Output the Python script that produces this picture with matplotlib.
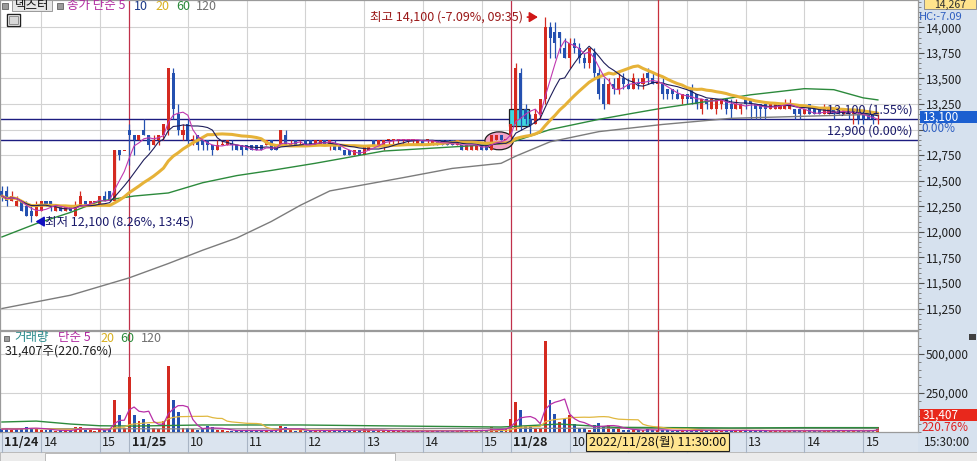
import numpy as np
import pandas as pd
import matplotlib
matplotlib.use('Agg')
import matplotlib.pyplot as plt
from matplotlib.patches import Rectangle, Ellipse
from matplotlib.transforms import blended_transform_factory
import matplotlib.ticker as mticker

plt.rcParams['font.family'] = ['Noto Sans CJK KR', 'DejaVu Sans']

# ---------------- data ----------------
stock_name = '덱스터'
day_labels = ['11/24', '11/25', '11/28']
session_start = ['13:20', '09:00', '09:00']
session_last = ['15:20', '15:20', '15:15']
closing_bar = [True, True, False]

opens = [
    # 11/24
    12400, 12400, 12300, 12250, 12300, 12250, 12200, 12150, 12200, 12300, 12300, 12200, 12250,
    12200, 12250, 12150, 12250, 12300, 12250, 12300, 12250, 12350, 12400, 12300, 12800, 12800,
    # 11/25
    13000, 12950, 12900, 13000, 12950, 12850, 12900, 12950, 13000, 13550, 13150, 12950, 13050,
    12900, 12950, 12900, 12900, 12850, 12800, 12850, 12850, 12850, 12850, 12850, 12850, 12850,
    12850, 12850, 12850, 12900, 12850, 12850, 12950, 12850, 12900, 12850, 12900, 12900, 12850,
    12850, 12900, 12850, 12850, 12850, 12800, 12800, 12750, 12800, 12750, 12800, 12900, 12850,
    12850, 12900, 12900, 12900, 12900, 12900, 12900, 12850, 12900, 12900, 12850, 12900, 12900,
    12900, 12900, 12850, 12850, 12800, 12800, 12800, 12850, 12850, 12800, 12900, 12950, 12900,
    # 11/28
    12950, 13050, 13550, 13200, 13100, 13050, 13150, 13300, 14000, 13950, 13950, 13800, 13700,
    13850, 13800, 13700, 13650, 13750, 13550, 13450, 13250, 13450, 13400, 13500, 13450, 13400,
    13450, 13450, 13550, 13500, 13450, 13450, 13400, 13400, 13350, 13300, 13350, 13400, 13350,
    13200, 13300, 13200, 13200, 13250, 13300, 13250, 13200, 13200, 13300, 13300, 13250, 13250,
    13250, 13200, 13200, 13200, 13200, 13200, 13200, 13200, 13150, 13250, 13200, 13200, 13150,
    13150, 13200, 13200, 13150, 13200, 13150, 13150, 13150, 13150, 13150, 13100,
]
highs = [
    12450, 12450, 12400, 12350, 12300, 12300, 12250, 12300, 12300, 12300, 12300, 12250, 12250,
    12250, 12250, 12300, 12400, 12300, 12300, 12300, 12350, 12400, 12400, 12800, 12800, 12800,
    13050, 12950, 12950, 13100, 12950, 12950, 12950, 13050, 13600, 13600, 13250, 13050, 13100,
    12950, 12950, 12900, 12900, 12850, 12900, 12900, 12900, 12900, 12850, 12850, 12850, 12850,
    12850, 12850, 12900, 12900, 12850, 13000, 13000, 12900, 12900, 12900, 12900, 12900, 12900,
    12900, 12900, 12900, 12900, 12850, 12800, 12800, 12800, 12800, 12850, 12850, 12900, 12900,
    12900, 12900, 12900, 12900, 12900, 12900, 12900, 12900, 12900, 12900, 12900, 12900, 12900,
    12900, 12900, 12900, 12850, 12850, 12850, 12850, 12850, 12850, 12950, 12950, 12950, 12900,
    13050, 13650, 13600, 13250, 13150, 13200, 13300, 14100, 14050, 14050, 13950, 13900, 13900,
    13900, 13850, 13750, 13800, 13800, 13600, 13500, 13500, 13500, 13550, 13550, 13500, 13550,
    13500, 13550, 13600, 13550, 13500, 13500, 13400, 13400, 13400, 13350, 13350, 13450, 13350,
    13300, 13300, 13300, 13300, 13300, 13300, 13300, 13300, 13250, 13300, 13300, 13250, 13250,
    13250, 13250, 13250, 13250, 13300, 13300, 13200, 13200, 13200, 13250, 13200, 13200, 13250,
    13200, 13200, 13200, 13200, 13200, 13200, 13200, 13150, 13150, 13150, 13150,
]
lows = [
    12300, 12250, 12300, 12250, 12200, 12150, 12100, 12150, 12200, 12250, 12200, 12200, 12200,
    12200, 12200, 12150, 12250, 12250, 12250, 12300, 12250, 12300, 12300, 12300, 12700, 12800,
    12650, 12750, 12900, 12950, 12800, 12850, 12850, 12900, 12950, 13100, 12950, 12900, 12850,
    12850, 12800, 12800, 12800, 12750, 12800, 12850, 12850, 12800, 12800, 12750, 12800, 12800,
    12800, 12800, 12850, 12800, 12800, 12850, 12850, 12850, 12850, 12850, 12850, 12850, 12850,
    12850, 12850, 12800, 12800, 12800, 12750, 12750, 12750, 12750, 12750, 12800, 12850, 12850,
    12800, 12850, 12850, 12850, 12850, 12850, 12850, 12850, 12850, 12850, 12850, 12850, 12850,
    12850, 12850, 12850, 12800, 12800, 12800, 12800, 12800, 12800, 12800, 12900, 12900, 12900,
    12900, 13000, 13000, 13050, 12950, 13050, 13100, 13250, 13700, 13700, 13750, 13700, 13600,
    13750, 13650, 13600, 13600, 13500, 13300, 13200, 13250, 13350, 13350, 13400, 13400, 13400,
    13400, 13400, 13450, 13450, 13400, 13300, 13300, 13300, 13300, 13250, 13250, 13250, 13200,
    13150, 13200, 13200, 13150, 13200, 13150, 13100, 13200, 13150, 13200, 13100, 13100, 13100,
    13100, 13200, 13200, 13200, 13200, 13200, 13100, 13100, 13150, 13150, 13150, 13150, 13150,
    13150, 13100, 13150, 13150, 13100, 13050, 13050, 13050, 13100, 13050, 13050,
]
closes = [
    12350, 12300, 12350, 12300, 12200, 12150, 12150, 12250, 12300, 12250, 12250, 12250, 12200,
    12250, 12200, 12250, 12350, 12250, 12300, 12300, 12350, 12300, 12300, 12800, 12750, 12800,
    12950, 12900, 12950, 12950, 12850, 12900, 12950, 13050, 13600, 13200, 13000, 13000, 12900,
    12900, 12850, 12850, 12850, 12800, 12850, 12850, 12900, 12850, 12800, 12800, 12800, 12800,
    12800, 12800, 12900, 12800, 12800, 13000, 12850, 12850, 12850, 12850, 12850, 12850, 12900,
    12900, 12850, 12900, 12800, 12800, 12750, 12750, 12800, 12750, 12850, 12850, 12850, 12900,
    12900, 12900, 12900, 12900, 12900, 12900, 12900, 12900, 12850, 12900, 12900, 12850, 12850,
    12850, 12850, 12900, 12800, 12850, 12850, 12850, 12800, 12800, 12950, 12950, 12900, 12900,
    13050, 13600, 13100, 13100, 13050, 13150, 13300, 14000, 13900, 13850, 13900, 13700, 13850,
    13800, 13700, 13650, 13800, 13550, 13350, 13250, 13450, 13400, 13500, 13450, 13400, 13500,
    13450, 13500, 13500, 13450, 13450, 13350, 13350, 13350, 13300, 13350, 13300, 13300, 13250,
    13300, 13250, 13300, 13300, 13300, 13200, 13200, 13250, 13250, 13250, 13250, 13200, 13200,
    13200, 13250, 13250, 13250, 13250, 13250, 13150, 13150, 13200, 13150, 13150, 13150, 13200,
    13200, 13150, 13150, 13200, 13150, 13200, 13100, 13100, 13100, 13100, 13100,
]
volumes_k = [
    18, 22, 15, 20, 25, 30, 28, 20, 12, 15, 10, 8, 10, 8, 12, 30, 35, 12, 10, 8, 18, 15, 22, 205, 110, 25,
    350, 110, 70, 85, 50, 25, 20, 70, 420, 205, 128, 25, 25, 20, 15, 25, 40, 30, 12, 10, 8, 8, 10, 12,
    8, 8, 10, 8, 12, 10, 8, 40, 30, 10, 8, 10, 8, 8, 10, 12, 8, 10, 12, 10, 15, 12, 10, 12, 18, 10,
    8, 10, 12, 8, 6, 6, 6, 6, 6, 8, 6, 6, 8, 6, 6, 6, 8, 8, 10, 12, 10, 8, 10, 12, 30, 15, 12, 25,
    85, 190, 140, 40, 40, 20, 28, 585, 205, 115, 65, 85, 110, 50, 28, 28, 15, 45, 58, 40, 45, 18,
    25, 10, 12, 15, 10, 12, 20, 12, 10, 15, 10, 8, 8, 10, 8, 12, 15, 12, 8, 10, 10, 8, 12, 10, 8,
    12, 10, 8, 8, 10, 8, 6, 8, 8, 6, 10, 8, 6, 8, 10, 8, 6, 8, 12, 8, 10, 6, 8, 10, 8, 6, 8, 10, 31.407,
]
# longer averages (need history before the window)
ma60_idx = [0, 7, 14, 20, 27, 34, 41, 48, 55, 64, 78, 92, 102, 105, 112, 122, 129, 135, 142, 149, 153, 164, 170, 176, 179]
ma60_val = [11950, 12080, 12190, 12300, 12350, 12380, 12480, 12550, 12600, 12670, 12790, 12830, 12860, 12890,
            13000, 13100, 13160, 13210, 13260, 13310, 13340, 13400, 13390, 13310, 13290]
ma120_idx = [0, 14, 26, 34, 41, 48, 55, 61, 67, 82, 92, 102, 105, 112, 122, 135, 149, 164, 179]
ma120_val = [11250, 11380, 11550, 11690, 11820, 11940, 12100, 12260, 12400, 12530, 12620, 12670, 12740, 12880,
             12980, 13050, 13110, 13130, 13150]
vma60_idx = [0, 7, 14, 20, 27, 41, 61, 82, 102, 106, 114, 125, 149, 164, 179]
vma60_k = [64, 70, 51, 40, 38, 45, 45, 38, 32, 38, 51, 30, 26, 28, 28]
vma120_idx = [0, 40, 80, 120, 179]
vma120_k = [22, 20, 22, 24, 22]

high_label = '최고 14,100 (-7.09%, 09:35)'
low_label = '최저 12,100 (8.26%, 13:45)'
high_idx, high_price = 111, 14100
low_idx, low_price = 6, 12100
cur_price, prev_close = 13100, 12900
cur_label = '13,100 (1.55%)'
prev_label = '12,900 (0.00%)'
crosshair_time = ('11/28', '11:30')
crosshair_label = '2022/11/28(월) 11:30:00'
price_ticks = [11250, 11500, 11750, 12000, 12250, 12500, 12750, 13000, 13250, 13500, 13750, 14000]
hidden_price_ticks = [13000]
vol_ticks = [250000, 500000]

# ---------------- x categories (5-minute bars) ----------------
times = []
for d, s, e, cb in zip(day_labels, session_start, session_last, closing_bar):
    hh, mm = map(int, s.split(':'))
    eh, em = map(int, e.split(':'))
    t = hh * 60 + mm
    while t <= eh * 60 + em:
        times.append((d, t // 60, t % 60))
        t += 5
    if cb:
        times.append((d, 15, 30))
n = len(times)
assert n == len(opens) == len(highs) == len(lows) == len(closes) == len(volumes_k)
idx = np.arange(n)
o = np.array(opens, float); h = np.array(highs, float)
l = np.array(lows, float); c = np.array(closes, float)
vol = np.array(volumes_k, float) * 1000

UP = '#d42a20'; DN = '#2450b0'
cand_col = []
for i in range(n):
    if c[i] > o[i]:
        cand_col.append(UP)
    elif c[i] < o[i]:
        cand_col.append(DN)
    else:
        cand_col.append(UP if i == 0 or c[i] >= c[i - 1] else DN)
vol_col = []
for i in range(n):
    if i > 0 and c[i] > c[i - 1]:
        vol_col.append(UP)
    elif i > 0 and c[i] < c[i - 1]:
        vol_col.append(DN)
    else:
        vol_col.append(cand_col[i])

cs = pd.Series(c)
ma5 = cs.rolling(5, min_periods=1).mean()
ma10 = cs.rolling(10, min_periods=1).mean()
ma20 = cs.rolling(20, min_periods=1).mean()
vs = pd.Series(vol)
vma5 = vs.rolling(5, min_periods=1).mean()
vma20 = vs.rolling(20, min_periods=1).mean()

# ---------------- figure ----------------
W, H = 978, 461
fig = plt.figure(figsize=(W / 100, H / 100), dpi=100)
fig.patch.set_facecolor('white')

def fx(px):
    return px / W

def fy(py):
    return 1 - py / H

# backgrounds
fig.patches.append(Rectangle((fx(918), fy(452)), fx(60), 452 / H, transform=fig.transFigure,
                             facecolor='#d6e1ee', edgecolor='none', zorder=-10))
fig.patches.append(Rectangle((0, fy(452)), fx(918), 20 / H, transform=fig.transFigure,
                             facecolor='#dbe4ef', edgecolor='none', zorder=-10))
fig.patches.append(Rectangle((0, 0), 1, 9 / H, transform=fig.transFigure,
                             facecolor='#ebebeb', edgecolor='#b0b0b0', lw=0.6, zorder=-10))
fig.patches.append(Rectangle((fx(45), fy(461)), fx(350), 8 / H, transform=fig.transFigure,
                             facecolor='white', edgecolor='#b0b0b0', lw=0.6, zorder=-9))

ax_p = fig.add_axes([0, fy(330), 918 / W, 330 / H])
ax_v = fig.add_axes([0, fy(432), 918 / W, 101 / H])

XMIN, XMAX = -0.4, 187.2
for ax in (ax_p, ax_v):
    ax.set_xlim(XMIN, XMAX)
    ax.set_xticks([])
    for sp in ax.spines.values():
        sp.set_color('#9a9a9a')
        sp.set_linewidth(0.9)
    ax.yaxis.tick_right()
    ax.tick_params(axis='y', which='major', direction='out', length=4, width=0.8,
                   color='#505050', labelsize=8.5, pad=1.5, labelcolor='#202020')
    ax.tick_params(axis='y', which='minor', direction='out', length=2, width=0.6, color='#707070')

ax_p.set_ylim(11040, 14267)
ax_v.set_ylim(0, 647000)

fmt = mticker.FuncFormatter(lambda v, _: f'{int(round(v)):,}')
pfmt = mticker.FuncFormatter(lambda v, _: '' if int(round(v)) in hidden_price_ticks else f'{int(round(v)):,}')
ax_p.set_yticks(price_ticks)
ax_p.yaxis.set_major_formatter(pfmt)
ax_p.yaxis.set_minor_locator(mticker.MultipleLocator(50))
ax_v.set_yticks(vol_ticks)
ax_v.yaxis.set_major_formatter(fmt)
ax_v.yaxis.set_minor_locator(mticker.MultipleLocator(50000))

GRID = '#d2d2d2'
for p in price_ticks:
    ax_p.axhline(p, color=GRID, lw=0.8, zorder=1)
for vt in vol_ticks:
    ax_v.axhline(vt, color=GRID, lw=0.8, zorder=1)

# time grid and labels
band_tr = blended_transform_factory(ax_v.transData, fig.transFigure)
day_start = [i for i in range(n) if i == 0 or times[i][0] != times[i - 1][0]]
hour_idx = [i for i in range(n) if times[i][2] == 0 and times[i][1] != 9]
cross_i = [i for i in range(n) if times[i][0] == crosshair_time[0]
           and f'{times[i][1]:02d}:{times[i][2]:02d}' == crosshair_time[1]][0]
for i in hour_idx:
    for ax in (ax_p, ax_v):
        ax.axvline(i, color=GRID, lw=0.8, zorder=1)
for i in day_start[1:]:
    for ax in (ax_p, ax_v):
        ax.axvline(i, color='#c0304a', lw=0.9, zorder=2)
for i in hour_idx + day_start:
    ax_v.axvline(i, ymin=-20 / 101, ymax=0, color='#a8b4c4', lw=0.8, clip_on=False)
for i in day_start:
    ax_v.text(i + 0.5, fy(442), times[i][0], transform=band_tr, ha='left', va='center',
              fontsize=9, fontweight='bold', color='#202020')
for i in hour_idx:
    if abs(i - cross_i) < 14:   # covered by the crosshair date box
        continue
    ax_v.text(i + 0.5, fy(442), str(times[i][1]), transform=band_tr, ha='left', va='center',
              fontsize=9, color='#202020')

for ax in (ax_p, ax_v):
    ax.axvline(cross_i, color='#c8303c', lw=0.9, zorder=7)
ax_v.text(cross_i, fy(442), crosshair_label, transform=band_tr, ha='center', va='center',
          fontsize=9, color='#101010', zorder=10,
          bbox=dict(boxstyle='square,pad=0.22', facecolor='#ffe590', edgecolor='#202020', lw=0.8))

# highlight shapes
ax_p.add_patch(Ellipse((101.6, 12890), 5.8, 175, facecolor='#f3a3c6', edgecolor='#202020', lw=0.9, zorder=3))
ax_p.add_patch(Rectangle((103.6, 13030), 4.1, 170, facecolor='#3fd6e0', edgecolor='#202020', lw=0.9, zorder=3))

# reference lines
for lvl in (cur_price, prev_close):
    ax_p.axhline(lvl, color='#1c1c80', lw=1.0, zorder=2)

# candles
ax_p.vlines(idx, l, h, colors=cand_col, lw=0.9, zorder=4)
bot = np.where(o == c, o - 5, np.minimum(o, c))
hgt = np.where(o == c, 10, np.abs(c - o))
ax_p.bar(idx, hgt, width=0.62, bottom=bot, color=cand_col, linewidth=0, zorder=5)

# moving averages
ax_p.plot(ma120_idx, ma120_val, color='#7c7c7c', lw=1.0, zorder=6)
ax_p.plot(ma60_idx, ma60_val, color='#2c8a3c', lw=1.0, zorder=6)
ax_p.plot(idx, ma20, color='#e6b238', lw=2.2, zorder=6, solid_capstyle='round')
ax_p.plot(idx, ma10, color='#1e1e5a', lw=0.8, zorder=6)
ax_p.plot(idx, ma5, color='#c038b0', lw=0.8, zorder=6)

# high / low annotations
ax_p.annotate('', xy=(high_idx - 0.9, high_price), xytext=(high_idx - 4.2, high_price),
              arrowprops=dict(arrowstyle='-|>,head_length=0.5,head_width=0.3', color='#d01818', lw=1.2), zorder=8)
ax_p.text(high_idx - 4.6, high_price, high_label, ha='right', va='center', fontsize=9, color='#9a1818', zorder=8)
ax_p.annotate('', xy=(low_idx + 0.3, low_price), xytext=(low_idx + 2.6, low_price),
              arrowprops=dict(arrowstyle='-|>,head_length=0.5,head_width=0.3', color='#1010c0', lw=1.2), zorder=8)
ax_p.text(low_idx + 2.7, low_price, low_label, ha='left', va='center', fontsize=9, color='#1a1a6a', zorder=8)
ax_p.text(186.0, cur_price + 25, cur_label, ha='right', va='bottom', fontsize=9, color='#1a1a6a', zorder=8)
ax_p.text(186.0, prev_close + 25, prev_label, ha='right', va='bottom', fontsize=9, color='#1a1a6a', zorder=8)

# volume
ax_v.bar(idx, vol, width=0.6, color=vol_col, linewidth=0, zorder=4)
ax_v.plot(vma120_idx, np.array(vma120_k) * 1000, color='#8a8a8a', lw=0.9, zorder=5)
ax_v.plot(vma60_idx, np.array(vma60_k) * 1000, color='#2c8a3c', lw=1.0, zorder=5)
ax_v.plot(idx, vma20, color='#e0b840', lw=0.9, zorder=5)
ax_v.plot(idx, vma5, color='#b830a8', lw=0.9, zorder=5)

# ---------------- legends / header texts ----------------
def ftext(x, y, s, **kw):
    kw.setdefault('fontsize', 9)
    kw.setdefault('va', 'center')
    kw.setdefault('ha', 'left')
    kw.setdefault('zorder', 30)
    fig.text(fx(x), fy(y), s, **kw)

def fbox(x, y, w, hgt_, fc, ec='#808080', lw=0.7, z=5):
    fig.patches.append(Rectangle((fx(x), fy(y + hgt_)), w / W, hgt_ / H, transform=fig.transFigure,
                                 facecolor=fc, edgecolor=ec, lw=lw, zorder=z))

fbox(2, 3, 6, 6, '#9a9a9a', ec='#707070')
fbox(12, 0, 40, 11, '#e6e6e6', ec='#9a9a9a')
ftext(15, 6, stock_name, color='#101010', fontsize=9)
fbox(57, 3, 6, 6, '#9a9a9a', ec='#707070')
ftext(67, 6, '종가 단순 5', color='#b02aa0')
ftext(134, 6, '10', color='#1c3a8a')
ftext(155, 6, '20', color='#d8b020')
ftext(176, 6, '60', color='#2a8a3a')
ftext(196, 6, '120', color='#707070')
fbox(7, 14, 13, 12, 'white', ec='#202020', lw=1.0)
fbox(9, 16, 9, 8, '#d8d8d8', ec='#808080', lw=0.6)

fbox(4, 336, 5, 5, '#9a9a9a', ec='#707070')
ftext(14, 338, '거래량', color='#2a8c8c')
ftext(58, 338, '단순 5', color='#b02aa0')
ftext(100, 338, '20', color='#d8b020')
ftext(120, 338, '60', color='#2a8a3a')
ftext(141, 338, '120', color='#707070')
ftext(5, 351, '31,407주(220.76%)', color='#202020')

# right axis boxes
fbox(924, -1, 52, 10, '#ffe48c', ec='#909090')
ftext(950, 4.5, '14,267', ha='center', fontsize=7.5, color='#303030')
ftext(919, 16.5, 'HC:-7.09', fontsize=8, color='#2f5fc0')
fbox(920, 111, 58, 12, '#1c5fd0', ec='none')
ftext(923, 117, '13,100', fontsize=8.5, color='white')
ftext(921, 129, '0.00%', fontsize=8.5, color='#2f5fc0')
fbox(920, 409, 58, 12, '#e8281c', ec='none')
ftext(923, 415, '31,407', fontsize=8.5, color='white')
ftext(921, 427, '220.76%', fontsize=8.5, color='#e02020')
ftext(924, 442, '15:30:00', fontsize=8.5, color='#202020')
fbox(969, 334, 7, 6, '#404040', ec='none')

fig.savefig('out.png', dpi=100)
